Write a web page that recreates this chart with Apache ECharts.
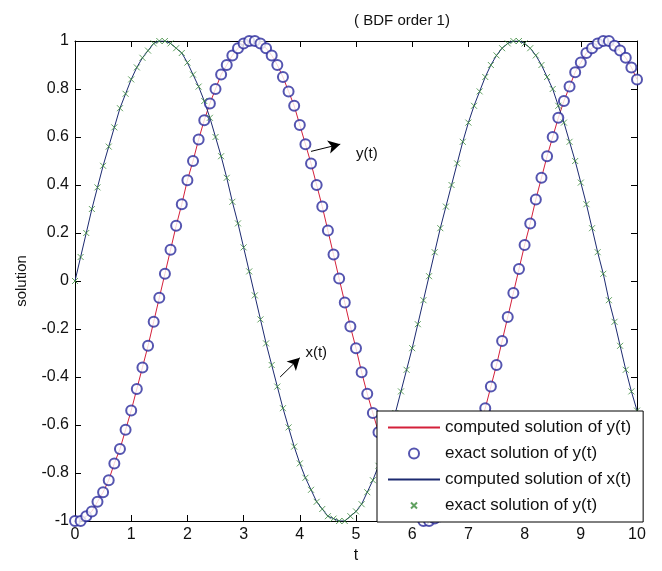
<!DOCTYPE html>
<html>
<head>
<meta charset="utf-8">
<script src="https://cdn.jsdelivr.net/npm/echarts@6/dist/echarts.min.js"></script>
<style>
  html, body { margin: 0; padding: 0; background: #fff; }
  #main { width: 662px; height: 571px; }
</style>
</head>
<body>
<div id="main"></div>
<script>
  // time steps (0 .. 10, step 0.1)
  var tValues = [
    0.0, 0.1, 0.2, 0.3, 0.4, 0.5, 0.6, 0.7, 0.8, 0.9,
    1.0, 1.1, 1.2, 1.3, 1.4, 1.5, 1.6, 1.7, 1.8, 1.9,
    2.0, 2.1, 2.2, 2.3, 2.4, 2.5, 2.6, 2.7, 2.8, 2.9,
    3.0, 3.1, 3.2, 3.3, 3.4, 3.5, 3.6, 3.7, 3.8, 3.9,
    4.0, 4.1, 4.2, 4.3, 4.4, 4.5, 4.6, 4.7, 4.8, 4.9,
    5.0, 5.1, 5.2, 5.3, 5.4, 5.5, 5.6, 5.7, 5.8, 5.9,
    6.0, 6.1, 6.2, 6.3, 6.4, 6.5, 6.6, 6.7, 6.8, 6.9,
    7.0, 7.1, 7.2, 7.3, 7.4, 7.5, 7.6, 7.7, 7.8, 7.9,
    8.0, 8.1, 8.2, 8.3, 8.4, 8.5, 8.6, 8.7, 8.8, 8.9,
    9.0, 9.1, 9.2, 9.3, 9.4, 9.5, 9.6, 9.7, 9.8, 9.9,
    10.0
  ];
  // y(t) values (red line / blue circles)
  var yValues = [
    -1.00, -1.00, -0.98, -0.96, -0.92, -0.88, -0.83, -0.76, -0.70, -0.62,
    -0.54, -0.45, -0.36, -0.27, -0.17, -0.07, 0.03, 0.13, 0.23, 0.32,
    0.42, 0.50, 0.59, 0.67, 0.74, 0.80, 0.86, 0.90, 0.94, 0.97,
    0.99, 1.00, 1.00, 0.99, 0.97, 0.94, 0.90, 0.85, 0.79, 0.73,
    0.65, 0.57, 0.49, 0.40, 0.31, 0.21, 0.11, 0.01, -0.09, -0.19,
    -0.28, -0.38, -0.47, -0.55, -0.63, -0.71, -0.78, -0.83, -0.89, -0.93,
    -0.96, -0.98, -1.00, -1.00, -0.99, -0.98, -0.95, -0.92, -0.87, -0.82,
    -0.75, -0.68, -0.61, -0.53, -0.44, -0.35, -0.25, -0.15, -0.05, 0.05,
    0.15, 0.24, 0.34, 0.43, 0.52, 0.60, 0.68, 0.75, 0.81, 0.87,
    0.91, 0.95, 0.97, 0.99, 1.00, 1.00, 0.98, 0.96, 0.93, 0.89,
    0.84
  ];
  // x(t) values (navy line / green crosses)
  var xValues = [
    0.00, 0.10, 0.20, 0.30, 0.39, 0.48, 0.56, 0.64, 0.72, 0.78,
    0.84, 0.89, 0.93, 0.96, 0.99, 1.00, 1.00, 0.99, 0.97, 0.95,
    0.91, 0.86, 0.81, 0.75, 0.68, 0.60, 0.52, 0.43, 0.33, 0.24,
    0.14, 0.04, -0.06, -0.16, -0.26, -0.35, -0.44, -0.53, -0.61, -0.69,
    -0.76, -0.82, -0.87, -0.92, -0.95, -0.98, -0.99, -1.00, -1.00, -0.98,
    -0.96, -0.93, -0.88, -0.83, -0.77, -0.71, -0.63, -0.55, -0.46, -0.37,
    -0.28, -0.18, -0.08, 0.02, 0.12, 0.22, 0.31, 0.40, 0.49, 0.58,
    0.66, 0.73, 0.79, 0.85, 0.90, 0.94, 0.97, 0.99, 1.00, 1.00,
    0.99, 0.97, 0.94, 0.90, 0.85, 0.80, 0.73, 0.66, 0.58, 0.50,
    0.41, 0.32, 0.22, 0.12, 0.03, -0.08, -0.17, -0.27, -0.37, -0.46,
    -0.54
  ];
  var seriesNames = [
    'computed solution of y(t)',
    'exact solution of y(t)',
    'computed solution of x(t)',
    'exact solution of y(t) '
  ];
  // arrow annotations: [from, to], label anchor
  var arrowYt = [[4.2, 0.54], [4.72, 0.57]];
  var labelYt = [5.0, 0.53];
  var arrowXt = [[3.65, -0.40], [4.0, -0.32]];
  var labelXt = [4.1, -0.30];

  function pairs(xs, ys) {
    var out = [];
    for (var i = 0; i < xs.length; i++) out.push([xs[i], ys[i]]);
    return out;
  }

  var fontFam = 'Liberation Sans, Arial, sans-serif';
  var crossPath = 'path://M0,0M10,10M2,2L8,8M8,2L2,8';
  var chart = echarts.init(document.getElementById('main'));
  chart.setOption({
    animation: false,
    backgroundColor: '#fff',
    title: {
      text: '( BDF order 1)',
      left: 397,
      textAlign: 'center',
      top: 8,
      textStyle: { fontFamily: fontFam, fontSize: 15, fontWeight: 'normal', color: '#111' }
    },
    grid: { left: 75, right: 25, top: 41, bottom: 50 },
    xAxis: [{
      type: 'value', min: 0, max: 10, interval: 1,
      name: 't', nameLocation: 'middle', nameGap: 27,
      nameTextStyle: { fontFamily: fontFam, fontSize: 16, color: '#111' },
      axisLine: { onZero: false, lineStyle: { color: '#000', width: 1 } },
      axisTick: { inside: true, length: 6, lineStyle: { color: '#000' } },
      axisLabel: { fontFamily: fontFam, fontSize: 16, color: '#111', margin: 6 },
      splitLine: { show: false }
    }, {
      type: 'value', min: 0, max: 10, interval: 1, position: 'top',
      axisLine: { onZero: false, lineStyle: { color: '#000', width: 1 } },
      axisTick: { inside: true, length: 6, lineStyle: { color: '#000' } },
      axisLabel: { show: false },
      splitLine: { show: false }
    }],
    yAxis: [{
      type: 'value', min: -1, max: 1, interval: 0.2,
      name: 'solution', nameLocation: 'middle', nameGap: 46, nameRotate: 90,
      nameTextStyle: { fontFamily: fontFam, fontSize: 15, color: '#111' },
      axisLine: { onZero: false, lineStyle: { color: '#000', width: 1 } },
      axisTick: { inside: true, length: 6, lineStyle: { color: '#000' } },
      axisLabel: {
        fontFamily: fontFam, fontSize: 16, color: '#111', margin: 6,
        formatter: function (v) { return String(Math.round(v * 10) / 10); }
      },
      splitLine: { show: false }
    }, {
      type: 'value', min: -1, max: 1, interval: 0.2, position: 'right',
      axisLine: { show: true, onZero: false, lineStyle: { color: '#000', width: 1 } },
      axisTick: { show: true, inside: true, length: 6, lineStyle: { color: '#000' } },
      axisLabel: { show: false },
      splitLine: { show: false }
    }],
    legend: {
      data: [
        { name: seriesNames[0], itemStyle: { opacity: 0 } },
        { name: seriesNames[1] },
        { name: seriesNames[2], itemStyle: { opacity: 0 } },
        { name: seriesNames[3], icon: crossPath }
      ],
      orient: 'vertical',
      left: 377, top: 411,
      backgroundColor: '#fff',
      borderColor: '#000', borderWidth: 1,
      padding: [8, 12, 8, 10],
      itemWidth: 52, itemHeight: 10, itemGap: 9,
      textStyle: { fontFamily: fontFam, fontSize: 17, color: '#111' },
      selectedMode: false
    },
    series: [{
      name: seriesNames[0],
      type: 'line',
      data: pairs(tValues, yValues),
      symbol: 'none',
      lineStyle: { color: '#d4203a', width: 1 },
      itemStyle: { color: '#d4203a' },
      z: 2
    }, {
      name: seriesNames[1],
      type: 'scatter',
      data: pairs(tValues, yValues),
      symbol: 'emptyCircle',
      symbolSize: 10,
      itemStyle: { color: '#2b2a9c', borderColor: '#2b2a9c', borderWidth: 1 },
      z: 3
    }, {
      name: seriesNames[2],
      type: 'line',
      data: pairs(tValues, xValues),
      symbol: 'none',
      lineStyle: { color: '#1c2a70', width: 1 },
      itemStyle: { color: '#1c2a70' },
      z: 2
    }, {
      name: seriesNames[3],
      type: 'scatter',
      data: pairs(tValues, xValues),
      symbol: 'path://M0,0L10,10M10,0L0,10',
      symbolSize: 6,
      itemStyle: { color: 'none', borderColor: '#3a8a3a', borderWidth: 1 },
      z: 3
    }, {
      name: 'annotations',
      type: 'line',
      data: [],
      symbol: 'none',
      markLine: {
        silent: true,
        symbol: ['none', 'arrow'],
        symbolSize: [10, 12],
        lineStyle: { color: '#000', width: 1, type: 'solid' },
        label: { show: false },
        data: [
          [{ coord: arrowYt[0] }, { coord: arrowYt[1] }],
          [{ coord: arrowXt[0] }, { coord: arrowXt[1] }]
        ]
      },
      markPoint: {
        silent: true,
        symbol: 'circle', symbolSize: 0,
        label: {
          show: true, position: 'right', distance: 0,
          fontFamily: fontFam, fontSize: 15, color: '#111',
          formatter: function (p) { return p.name; }
        },
        data: [
          { name: 'y(t)', coord: labelYt },
          { name: 'x(t)', coord: labelXt }
        ]
      }
    }]
  });
</script>
</body>
</html>
